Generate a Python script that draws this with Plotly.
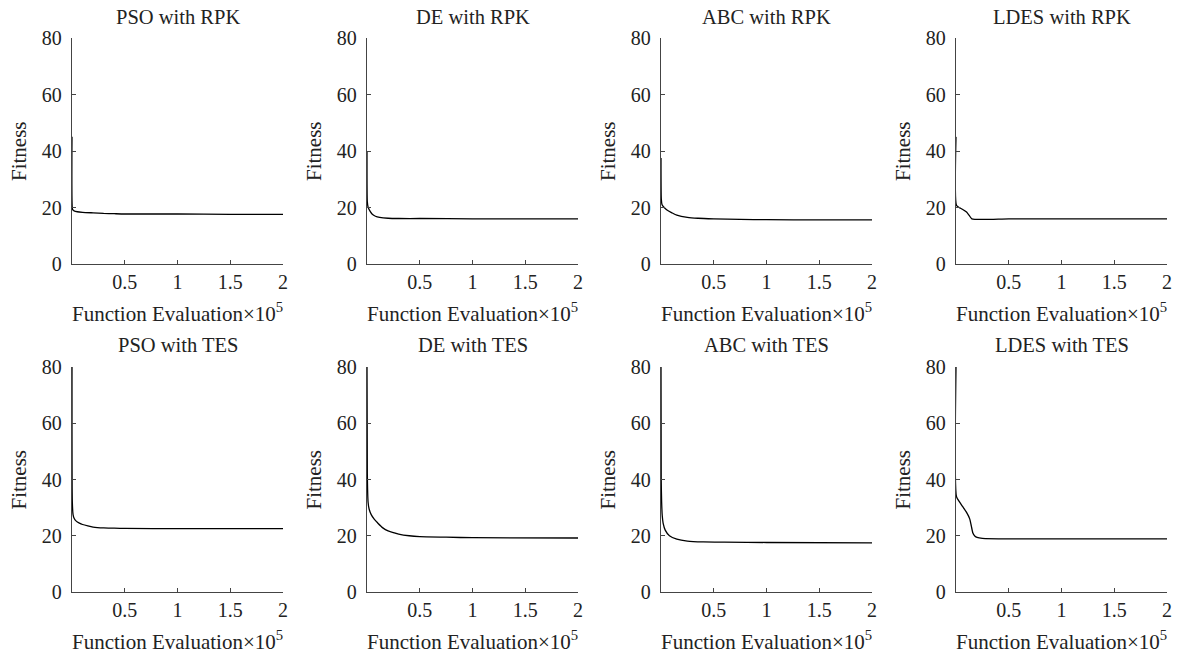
import plotly.graph_objects as go

# Function evaluations (x 10^5)
titles = ["PSO with RPK", "DE with RPK", "ABC with RPK", "LDES with RPK",
          "PSO with TES", "DE with TES", "ABC with TES", "LDES with TES"]

pso_rpk_x = [0, 0.004, 0.01, 0.02, 0.05, 0.1, 0.2, 0.3, 0.4, 0.5, 1.0, 1.5, 2.0]
pso_rpk_y = [45, 19.5, 19.1, 18.8, 18.5, 18.3, 18.1, 17.9, 17.8, 17.7, 17.7, 17.6, 17.6]

de_rpk_x = [0, 0.003, 0.01, 0.03, 0.05, 0.08, 0.12, 0.2, 0.3, 0.5, 1.0, 2.0]
de_rpk_y = [40, 22, 20.2, 18.6, 17.6, 16.9, 16.5, 16.2, 16.1, 16.1, 16.0, 16.0]

abc_rpk_x = [0, 0.003, 0.01, 0.03, 0.06, 0.1, 0.15, 0.25, 0.35, 0.5, 0.75, 1.0, 1.5, 2.0]
abc_rpk_y = [37.5, 23, 21, 20, 19, 18.2, 17.3, 16.5, 16.2, 16.0, 15.8, 15.7, 15.6, 15.6]

ldes_rpk_x = [0, 0.004, 0.03, 0.06, 0.1, 0.125, 0.15, 0.5, 1.0, 2.0]
ldes_rpk_y = [45, 20.8, 20.0, 19.4, 18.4, 17.2, 16.0, 16.0, 16.0, 16.0]

pso_tes_x = [0, 0.003, 0.01, 0.02, 0.04, 0.07, 0.1, 0.15, 0.2, 0.3, 0.4, 0.5, 1.0, 2.0]
pso_tes_y = [80, 32, 27.5, 26.2, 25.2, 24.5, 24.0, 23.5, 23.1, 22.8, 22.7, 22.6, 22.5, 22.5]

de_tes_x = [0, 0.003, 0.01, 0.02, 0.04, 0.07, 0.1, 0.15, 0.2, 0.3, 0.4, 0.5, 0.75, 1.0, 2.0]
de_tes_y = [80, 42, 32, 29.5, 27.5, 25.8, 24.6, 22.8, 21.7, 20.6, 20.0, 19.7, 19.5, 19.3, 19.2]

abc_tes_x = [0, 0.002, 0.006, 0.012, 0.02, 0.04, 0.08, 0.15, 0.25, 0.4, 0.6, 1.0, 2.0]
abc_tes_y = [80, 40, 32, 27, 24.5, 22.0, 20.0, 18.8, 18.1, 17.8, 17.7, 17.6, 17.5]

ldes_tes_x = [0, 0.004, 0.03, 0.06, 0.1, 0.13, 0.145, 0.16, 0.18, 0.2, 0.25, 0.5, 1.0, 2.0]
ldes_tes_y = [80, 34, 32.2, 30.5, 28.3, 26.0, 23.5, 21.0, 19.8, 19.4, 19.1, 18.9, 18.9, 18.9]

series_x = [pso_rpk_x, de_rpk_x, abc_rpk_x, ldes_rpk_x, pso_tes_x, de_tes_x, abc_tes_x, ldes_tes_x]
series_y = [pso_rpk_y, de_rpk_y, abc_rpk_y, ldes_rpk_y, pso_tes_y, de_tes_y, abc_tes_y, ldes_tes_y]

x_ticks = [0.5, 1, 1.5, 2]
x_ticklabels = ["0.5", "1", "1.5", "2"]
y_ticks = [0, 20, 40, 60, 80]

W, H = 1178, 654
col_px = [(72, 283), (367, 578), (661, 872), (956, 1167)]
row_px = [(38, 264), (367, 592)]
title_y = [17, 345]
xtitle_y = [312, 640]


def px_x(v):
    return v / W


def px_y(v):
    return 1 - v / H


FONT = "Liberation Serif"
TXT = "#222"
fig = go.Figure()
annotations = []
for i in range(8):
    r, c = divmod(i, 4)
    n = i + 1
    xa = "xaxis" if n == 1 else f"xaxis{n}"
    ya = "yaxis" if n == 1 else f"yaxis{n}"
    xr = "x" if n == 1 else f"x{n}"
    yr = "y" if n == 1 else f"y{n}"
    x0, x1 = col_px[c]
    y0, y1 = row_px[r]
    fig.add_trace(go.Scatter(x=series_x[i], y=series_y[i], mode="lines",
                             line=dict(color="black", width=1.3, shape="spline", smoothing=0.6),
                             xaxis=xr, yaxis=yr, showlegend=False))
    fig.update_layout({
        xa: dict(domain=[px_x(x0), px_x(x1)], range=[0, 2], anchor=yr, automargin=False,
                 tickvals=x_ticks, ticktext=x_ticklabels, ticks="inside", ticklen=4,
                 tickcolor="#444", showline=True, linecolor="#444", linewidth=1.3,
                 showgrid=False, zeroline=False, ticklabelstandoff=0,
                 tickfont=dict(family=FONT, size=20, color=TXT)),
        ya: dict(domain=[px_y(y1), px_y(y0)], range=[0, 80], anchor=xr, automargin=False,
                 tickvals=y_ticks, ticks="inside", ticklen=4,
                 tickcolor="#444", showline=True, linecolor="#444", linewidth=1.3,
                 showgrid=False, zeroline=False, ticklabelstandoff=5,
                 tickfont=dict(family=FONT, size=20, color=TXT)),
    })
    cx = (x0 + x1) / 2
    annotations.append(dict(text=titles[i], x=px_x(cx), y=px_y(title_y[r]),
                            xref="paper", yref="paper", showarrow=False,
                            font=dict(family=FONT, size=20.5, color=TXT),
                            xanchor="center", yanchor="middle"))
    annotations.append(dict(text="Function Evaluation×10<sup>5</sup>",
                            x=px_x(cx), y=px_y(xtitle_y[r]),
                            xref="paper", yref="paper", showarrow=False,
                            font=dict(family=FONT, size=21, color=TXT),
                            xanchor="center", yanchor="middle"))
    annotations.append(dict(text="Fitness", x=px_x(x0 - 53),
                            y=px_y((y0 + y1) / 2),
                            xref="paper", yref="paper", showarrow=False, textangle=-90,
                            font=dict(family=FONT, size=21, color=TXT),
                            xanchor="center", yanchor="middle"))

fig.update_layout(width=W, height=H, margin=dict(l=0, r=0, t=0, b=0, autoexpand=False),
                  plot_bgcolor="white", paper_bgcolor="white",
                  annotations=annotations, font=dict(family=FONT))
fig.write_html("out.html", config={"displayModeBar": False},
               post_script="document.body.style.margin='0px';")
